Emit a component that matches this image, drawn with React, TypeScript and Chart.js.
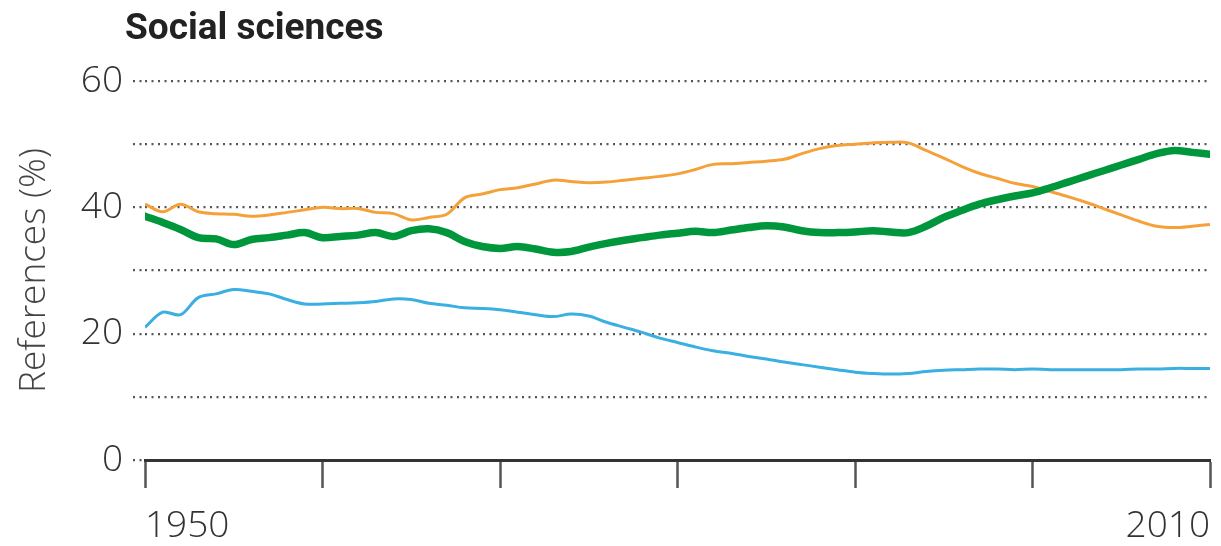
import React, { useEffect, useRef } from 'react';
import { Chart, registerables } from 'chart.js';

Chart.register(...registerables);

const years = [
  1950, 1951, 1952, 1953, 1954, 1955, 1956, 1957, 1958, 1959,
  1960, 1961, 1962, 1963, 1964, 1965, 1966, 1967, 1968, 1969,
  1970, 1971, 1972, 1973, 1974, 1975, 1976, 1977, 1978, 1979,
  1980, 1981, 1982, 1983, 1984, 1985, 1986, 1987, 1988, 1989,
  1990, 1991, 1992, 1993, 1994, 1995, 1996, 1997, 1998, 1999,
  2000, 2001, 2002, 2003, 2004, 2005, 2006, 2007, 2008, 2009,
  2010,
];

const greenValues = [
  38.6, 37.6, 36.5, 35.2, 35.0, 34.1, 34.9, 35.2, 35.6, 36.0,
  35.2, 35.4, 35.6, 36.0, 35.4, 36.3, 36.6, 36.0, 34.6, 33.8,
  33.5, 33.8, 33.4, 32.9, 33.0, 33.7, 34.3, 34.8, 35.2, 35.6,
  35.9, 36.2, 36.0, 36.4, 36.8, 37.1, 36.9, 36.3, 36.0, 36.0,
  36.1, 36.3, 36.1, 36.0, 37.0, 38.4, 39.5, 40.5, 41.2, 41.8,
  42.3, 43.1, 44.0, 44.9, 45.8, 46.7, 47.6, 48.5, 49.0, 48.7,
  48.4,
];

const orangeValues = [
  40.5, 39.3, 40.5, 39.3, 39.0, 38.9, 38.6, 38.8, 39.2, 39.6,
  40.0, 39.8, 39.8, 39.2, 39.0, 38.0, 38.4, 38.9, 41.5, 42.1,
  42.8, 43.1, 43.7, 44.3, 44.1, 43.9, 44.0, 44.3, 44.6, 44.9,
  45.3, 46.0, 46.8, 46.9, 47.1, 47.3, 47.6, 48.5, 49.3, 49.8,
  50.0, 50.2, 50.3, 50.2, 49.0, 47.8, 46.5, 45.4, 44.6, 43.8,
  43.3, 42.5, 41.7, 40.8, 39.8, 38.8, 37.8, 37.0, 36.8, 37.0,
  37.3,
];

const blueValues = [
  21.0, 23.4, 23.0, 25.7, 26.3, 27.0, 26.7, 26.3, 25.4, 24.7,
  24.7, 24.8, 24.9, 25.1, 25.5, 25.4, 24.8, 24.5, 24.1, 24.0,
  23.8, 23.4, 23.0, 22.7, 23.1, 22.8, 21.8, 21.0, 20.2, 19.3,
  18.6, 17.9, 17.3, 16.9, 16.4, 16.0, 15.5, 15.1, 14.7, 14.3,
  13.9, 13.7, 13.6, 13.7, 14.0, 14.2, 14.3, 14.4, 14.4, 14.3,
  14.4, 14.3, 14.3, 14.3, 14.3, 14.3, 14.4, 14.4, 14.5, 14.5,
  14.5,
];

const labeledYears = [1950, 2010];
const labeledValues = [0, 20, 40, 60];

const titleText = 'Social sciences';
const yAxisTitle = 'References (%)';

const FONT = '"Open Sans", "DejaVu Sans", sans-serif';

export default function App() {
  const canvasRef = useRef<HTMLCanvasElement | null>(null);

  useEffect(() => {
    const canvas = canvasRef.current;
    if (!canvas) return;
    const toPoints = (vals: number[]) => years.map((yr, i) => ({ x: yr, y: vals[i] }));
    const chart = new Chart(canvas, {
      type: 'line',
      data: {
        datasets: [
          {
            label: 'Green',
            data: toPoints(greenValues),
            borderColor: '#00963C',
            borderWidth: 7.5,
            pointRadius: 0,
            tension: 0.35,
            order: 0,
            borderCapStyle: 'round',
            borderJoinStyle: 'round',
          },
          {
            label: 'Orange',
            data: toPoints(orangeValues),
            borderColor: '#F5A13A',
            borderWidth: 3,
            pointRadius: 0,
            tension: 0.35,
            order: 1,
          },
          {
            label: 'Blue',
            data: toPoints(blueValues),
            borderColor: '#3AAFE2',
            borderWidth: 3,
            pointRadius: 0,
            tension: 0.35,
            order: 2,
          },
        ],
      },
      options: {
        animation: false,
        responsive: true,
        maintainAspectRatio: false,
        layout: { padding: { left: 0, right: 11, top: 81, bottom: 0 } },
        plugins: {
          legend: { display: false },
          tooltip: { enabled: false },
        },
        scales: {
          x: {
            type: 'linear',
            min: 1950,
            max: 2010,
            afterFit: (s: any) => {
              s.height = 86;
              s.paddingLeft = 0;
              s.paddingRight = 0;
            },
            ticks: {
              stepSize: 10,
              align: 'inner',
              padding: 16,
              color: '#333',
              maxRotation: 0,
              autoSkip: false,
              font: { family: FONT, size: 37, weight: '300' },
              callback: (v: any) => (labeledYears.includes(Number(v)) ? String(v) : ''),
            },
            grid: {
              drawOnChartArea: false,
              drawTicks: true,
              tickLength: 28,
              tickColor: '#555',
              tickWidth: 2.5,
            },
            border: { display: true, color: '#333', width: 3 },
          },
          y: {
            min: 0,
            max: 60,
            afterFit: (s: any) => {
              s.width = 145;
            },
            ticks: {
              stepSize: 10,
              padding: 10,
              color: '#333',
              font: { family: FONT, size: 37, weight: '300' },
              callback: (v: any) => (labeledValues.includes(Number(v)) ? String(v) : ''),
            },
            grid: {
              color: '#555',
              lineWidth: 2.2,
              tickLength: 12,
              tickColor: '#555',
              tickWidth: 2.2,
              tickBorderDash: [2, 4.5],
            },
            border: { display: false, dash: [2, 4.5] },
            title: {
              display: true,
              text: yAxisTitle,
              color: '#444',
              font: { family: FONT, size: 37, weight: '300' },
              padding: { top: 12, bottom: 0 },
            },
          },
        },
      },
    } as any);
    return () => chart.destroy();
  }, []);

  return (
    <div style={{ position: 'fixed', left: 0, top: 0, width: 1221, height: 546, background: '#fff' }}>
      <canvas ref={canvasRef} />
      <div
        style={{
          position: 'absolute',
          left: 125,
          top: 5,
          fontFamily: 'Roboto, "Open Sans", sans-serif',
          fontWeight: 700,
          fontSize: 37,
          lineHeight: '44px',
          color: '#222',
          whiteSpace: 'nowrap',
        }}
      >
        {titleText}
      </div>
    </div>
  );
}
